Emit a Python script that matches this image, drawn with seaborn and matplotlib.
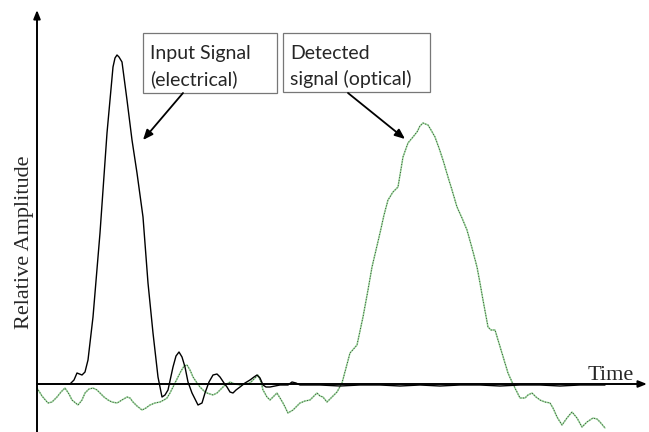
import matplotlib
matplotlib.use("Agg")
import matplotlib.pyplot as plt
import matplotlib.patches as mpatches
import seaborn as sns
import pandas as pd

# input (electrical) pulse
input_time = [0, 13, 23, 33, 37, 40, 45, 48, 51, 56, 63, 70, 76, 78, 80, 82, 85, 90, 95, 100, 106, 111,
              116, 121, 125, 128, 131, 136, 139, 142, 145, 148, 151, 155, 161, 165, 168, 172, 176,
              180, 183, 187, 190, 193, 196, 199, 203, 208, 213, 217, 220, 223, 226, 229, 233, 238,
              243, 251, 255, 259, 263, 283, 303, 323, 343, 363, 383, 403, 423, 443, 463, 483, 503,
              523, 543, 568]
input_amp = [0, 0, 0, 0, 4, 11, 9, 12, 24, 67, 151, 251, 317, 326, 329, 327, 322, 284, 244, 211, 167, 101,
             51, 7, -13, -11, -6, 17, 28, 32, 27, 17, 2, -9, -21, -19, -9, 2, 9,
             10, 7, 1, -3, -8, -9, -6, -3, 1, 4, 7, 9, 6, -1, -3, -3, -2,
             -1, -1, 2, 1, -1, -1, -2, -1, -1, -2, -1, -2, -1, -1, -2, -1, -1,
             -2, -1, -1]

# detected (optical) pulse
optical_time = [0, 5, 11, 15, 20, 24, 28, 32, 35, 41, 45, 48, 52, 56, 60, 63, 67, 71, 75, 80,
                85, 90, 93, 96, 100, 105, 109, 113, 118, 123, 127, 130, 133, 136, 140, 143, 147,
                150, 153, 156, 160, 163, 167, 170, 176, 180, 183, 188, 193, 198, 203, 208, 213,
                217, 221, 224, 226, 230, 233, 237, 240, 243, 246, 251, 256, 260, 263, 268, 273,
                277, 280, 283, 286, 290, 295, 300, 305, 309, 313, 320, 326, 331, 335, 339, 343,
                347, 351, 356, 361, 366, 371, 376, 380, 383, 386, 391, 394, 398, 402, 406, 411,
                415, 420, 425, 430, 435, 440, 443, 446, 451, 454, 458, 461, 465, 468, 471, 475,
                478, 483, 488, 491, 495, 499, 503, 508, 513, 516, 520, 525, 530, 535, 540, 545,
                550, 556, 560, 563, 568]
optical_amp = [-4, -12, -19, -18, -13, -8, -4, -10, -16, -21, -16, -9, -5, -4, -6, -9, -13, -16, -18, -19,
               -16, -13, -14, -18, -22, -26, -24, -21, -19, -18, -16, -14, -9, -3, 5, 11, 18,
               19, 14, 7, 1, -3, -7, -9, -11, -9, -6, -1, 2, 0, -1, 0, 1,
               5, 9, 2, -6, -13, -16, -12, -9, -14, -19, -29, -26, -22, -19, -17, -16,
               -12, -9, -12, -13, -18, -13, -8, 1, 16, 31, 39, 67, 94, 117, 134, 151,
               169, 184, 192, 197, 227, 241, 247, 252, 258, 261, 259, 254, 247, 236, 224, 207,
               194, 177, 166, 154, 136, 117, 101, 84, 57, 54, 54, 44, 31, 21, 11, 2,
               -4, -14, -14, -11, -9, -13, -16, -18, -19, -24, -33, -41, -34, -28, -34, -43,
               -38, -34, -35, -38, -44]

labels = ["Input Signal\n(electrical)", "Detected\nsignal (optical)"]

sns.set_style("white")
plt.rcParams['font.family'] = ['Lato', 'DejaVu Sans']

fig = plt.figure(figsize=(6.49, 4.32), dpi=100, facecolor='white')
ax = fig.add_axes([0, 0, 1, 1])
ax.set_xlim(-37, 612)
ax.set_ylim(-48, 384)
ax.axis('off')

opt = pd.DataFrame({"t": optical_time, "a": optical_amp})
inp = pd.DataFrame({"t": input_time, "a": input_amp})

sns.lineplot(data=opt, x="t", y="a", ax=ax, sort=False, estimator=None, color="#9ad89a", lw=1.1)
ax.plot(opt["t"], opt["a"], color="#222222", lw=0.6, ls=(0, (1, 2.2)))
sns.lineplot(data=inp, x="t", y="a", ax=ax, sort=False, estimator=None, color="black", lw=1.0)

# axes with arrow heads
arrow = dict(arrowstyle="-|>,head_length=0.5,head_width=0.2", color="black", lw=1.4,
             shrinkA=0, shrinkB=0)
ax.annotate("", xy=(0, 374), xytext=(0, -48), arrowprops=arrow)
ax.annotate("", xy=(610, 0), xytext=(0, 0), arrowprops=arrow)

ax.text(-12, 142, "Relative Amplitude", rotation=90, ha='center', va='center',
        fontsize=16, family=['Liberation Serif'])
ax.text(551, 4, "Time", ha='left', va='baseline', fontsize=16, family=['Liberation Serif'])

# callout boxes
boxes = [(106, 291, 134, 60), (246, 292, 147, 59)]
text_x = [113, 253]
for (x0, y0, w, h), tx, lab in zip(boxes, text_x, labels):
    ax.add_patch(mpatches.Rectangle((x0, y0), w, h, fc='white', ec='#777777', lw=0.9, zorder=3))
    l1, l2 = lab.split("\n")
    ax.text(tx, 325, l1, fontsize=14, va='baseline', zorder=4)
    ax.text(tx, 299, l2, fontsize=14, va='baseline', zorder=4)

pointer = dict(arrowstyle="-|>,head_length=0.6,head_width=0.25", color="black", lw=1.3,
               shrinkA=0, shrinkB=0)
ax.annotate("", xy=(106, 244), xytext=(146, 291), arrowprops=pointer)
ax.annotate("", xy=(368, 245), xytext=(311, 291), arrowprops=pointer)

fig.savefig("out.png", dpi=100, facecolor='white')
